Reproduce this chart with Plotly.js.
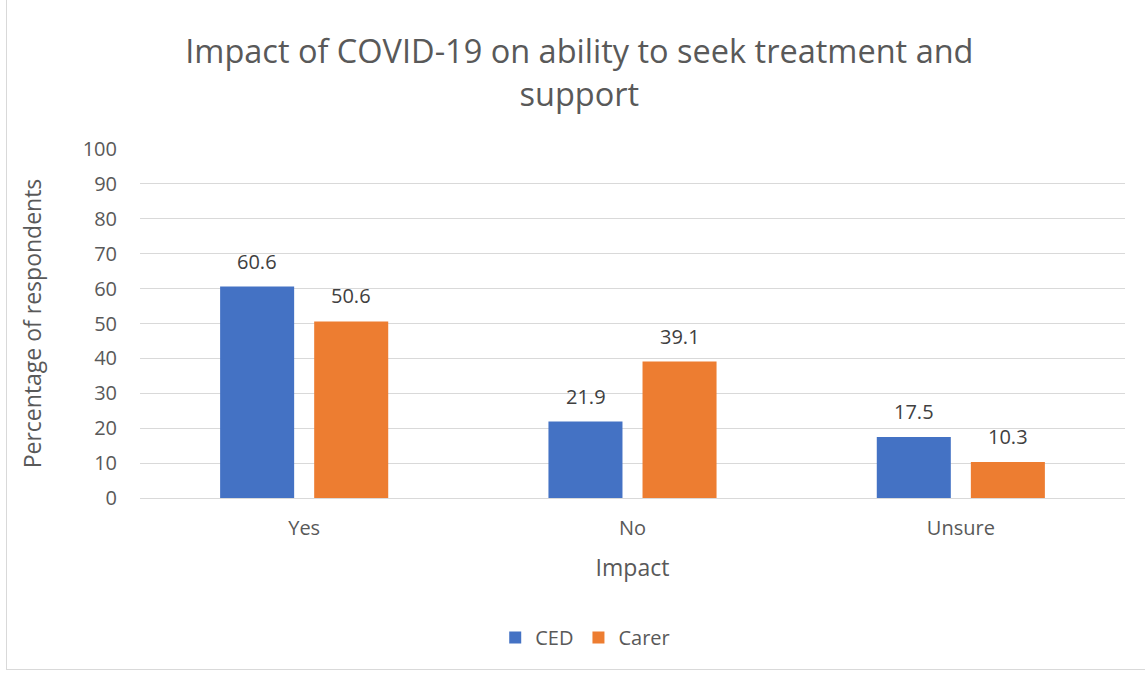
<!DOCTYPE html>
<html>
<head>
<meta charset="utf-8">
<script src="https://cdn.plot.ly/plotly-3.0.1.min.js"></script>
<style>
html,body{margin:0;padding:0;background:#fff;}
#frame{position:absolute;left:6px;top:-1px;width:1140px;height:671px;border:1px solid #d9d9d9;box-sizing:border-box;}
#chart{position:absolute;left:0;top:0;width:1145px;height:675px;}
</style>
</head>
<body>
<div id="frame"></div>
<div id="chart"></div>
<script>
const categories = ["Yes", "No", "Unsure"];
const cedValues = [60.6, 21.9, 17.5];
const carerValues = [50.6, 39.1, 10.3];
const seriesNames = ["CED", "Carer"];
const yTicks = [0, 10, 20, 30, 40, 50, 60, 70, 80, 90, 100];

const font = "'Open Sans', sans-serif";
const txt = "#595959";
const lblColor = "#404040";

const traces = [
  {type: "bar", name: seriesNames[0], x: categories, y: cedValues,
   marker: {color: "#4472C4"}},
  {type: "bar", name: seriesNames[1], x: categories, y: carerValues,
   marker: {color: "#ED7D31"}}
];

const annotations = [];
[cedValues, carerValues].forEach((vals, s) => {
  vals.forEach((v, i) => {
    annotations.push({x: categories[i], y: v, xref: "x", yref: "y",
      text: v.toFixed(1), showarrow: false, yanchor: "bottom",
      xshift: s === 0 ? -47 : 47, yshift: 10,
      font: {family: font, size: 20, color: lblColor}});
  });
});

const layout = {
  width: 1145, height: 675,
  paper_bgcolor: "rgba(0,0,0,0)", plot_bgcolor: "rgba(0,0,0,0)",
  margin: {l: 140, r: 20, t: 149, b: 177},
  font: {family: font, color: txt},
  title: {text: "Impact of COVID-19 on ability to seek treatment and<br>support",
          x: 0.506, xanchor: "center", y: 0.906, yanchor: "middle",
          font: {family: font, size: 32.5, color: txt}},
  barmode: "group", bargap: 0.427, bargroupgap: 0.213,
  xaxis: {title: {text: "Impact", font: {size: 23, color: txt}, standoff: 19},
          tickfont: {size: 20, color: txt}, showline: true, linecolor: "#d9d9d9",
          ticks: "", showgrid: false, ticklabelstandoff: 12},
  yaxis: {title: {text: "Percentage of respondents", font: {size: 23, color: txt}, standoff: 34},
          range: [0, 100], tickvals: yTicks, tickfont: {size: 20, color: txt},
          gridcolor: "#d9d9d9", gridwidth: 1, zeroline: false, showline: false,
          ticklabelstandoff: 22},
  annotations: annotations,
  legend: {orientation: "h", x: 0.452, xanchor: "center", y: -0.4, yanchor: "middle",
           font: {size: 20, color: txt}, itemwidth: 30, traceorder: "normal"},
  showlegend: true
};

Plotly.newPlot("chart", traces, layout, {displayModeBar: false, staticPlot: true});
</script>
</body>
</html>
